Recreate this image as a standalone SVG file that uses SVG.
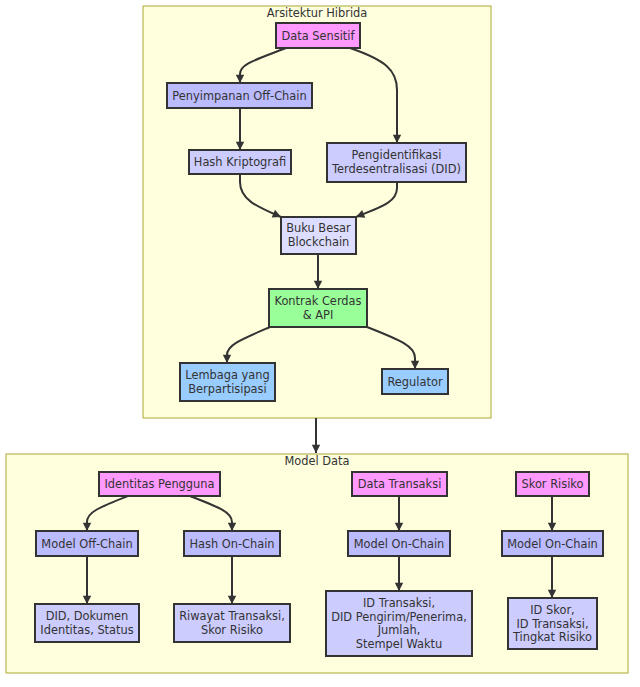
<svg xmlns="http://www.w3.org/2000/svg" width="640" height="687" viewBox="0 0 640 687">
<style>
text{font-family:"DejaVu Sans","Liberation Sans",sans-serif;font-size:11.4px;fill:#333;text-anchor:middle}
.cl{fill:#ffffde;stroke:#aaaa33;stroke-width:1}
.n rect{stroke:#333;stroke-width:2}
.pink{fill:#ff99ff}
.lav{fill:#bbbbff}
.lav1{fill:#ccccff}
.lav2{fill:#ddddff}
.green{fill:#99ff99}
.blue{fill:#99ccff}
.e path{fill:none;stroke:#333;stroke-width:2;marker-end:url(#arr)}
</style>
<defs>
<marker id="arr" viewBox="0 0 10 10" refX="9" refY="5" markerWidth="6" markerHeight="6" markerUnits="userSpaceOnUse" orient="auto" style="overflow:visible">
<path d="M0,0 L10,5 L0,10 z" fill="#333" transform="scale(1.4) translate(-3.5,-1.43)"/>
</marker>
</defs>
<g id="clusters">
<g id="cluster-arsitektur"><rect class="cl" x="143" y="6" width="348" height="412"/><text x="317" y="17">Arsitektur Hibrida</text></g>
<g id="cluster-model"><rect class="cl" x="6" y="454" width="622" height="219"/><text x="317" y="465">Model Data</text></g>
</g>
<g id="edges" class="e">
<path d="M286,48 C255,60 240,64 240,74 L240,83"/>
<path d="M350,48 C385,60 397,70 397,90 L397,143"/>
<path d="M240,108 L240,150"/>
<path d="M240,174 L240,182 C240,200 258,207 281,217"/>
<path d="M397,182 L397,188 C397,203 378,208 356,217"/>
<path d="M318,254 L318,289"/>
<path d="M270,327 C240,340 227,345 227,355 L227,363"/>
<path d="M367,327 C400,340 415,346 415,358 L415,369"/>
<path d="M316,418 L316,453"/>
<path d="M128,496 C100,507 87,512 87,522 L87,531"/>
<path d="M190,496 C218,507 232,512 232,522 L232,531"/>
<path d="M87,556 L87,604"/>
<path d="M232,556 L232,604"/>
<path d="M399,496 L399,531"/>
<path d="M399,556 L399,591"/>
<path d="M552,496 L552,531"/>
<path d="M552,556 L552,598"/>
</g>
<g id="data-sensitif" class="n"><rect class="pink" x="276" y="23" width="84" height="25"/><text x="318" y="40">Data Sensitif</text></g>
<g id="penyimpanan" class="n"><rect class="lav" x="167" y="83" width="145" height="25"/><text x="239.5" y="100">Penyimpanan Off-Chain</text></g>
<g id="hash-kriptografi" class="n"><rect class="lav1" x="189" y="150" width="102" height="24"/><text x="240" y="166">Hash Kriptografi</text></g>
<g id="did" class="n"><rect class="lav1" x="327" y="143" width="139" height="39"/><text x="396.5" y="159">Pengidentifikasi</text><text x="396.5" y="173">Terdesentralisasi (DID)</text></g>
<g id="buku-besar" class="n"><rect class="lav2" x="281" y="217" width="75" height="37"/><text x="318.5" y="232">Buku Besar</text><text x="318.5" y="246">Blockchain</text></g>
<g id="kontrak" class="n"><rect class="green" x="269" y="289" width="98" height="38"/><text x="318" y="305">Kontrak Cerdas</text><text x="318" y="319">&amp; API</text></g>
<g id="lembaga" class="n"><rect class="blue" x="180" y="363" width="95" height="38"/><text x="227.5" y="379">Lembaga yang</text><text x="227.5" y="393">Berpartisipasi</text></g>
<g id="regulator" class="n"><rect class="blue" x="382" y="369" width="66" height="25"/><text x="415" y="386">Regulator</text></g>
<g id="identitas" class="n"><rect class="pink" x="99" y="472" width="121" height="24"/><text x="159.5" y="488">Identitas Pengguna</text></g>
<g id="model-offchain" class="n"><rect class="lav" x="36" y="531" width="102" height="25"/><text x="87" y="548">Model Off-Chain</text></g>
<g id="hash-onchain" class="n"><rect class="lav" x="184" y="531" width="96" height="25"/><text x="232" y="548">Hash On-Chain</text></g>
<g id="did-dokumen" class="n"><rect class="lav1" x="35" y="604" width="104" height="38"/><text x="87" y="620">DID, Dokumen</text><text x="87" y="634">Identitas, Status</text></g>
<g id="riwayat" class="n"><rect class="lav1" x="174" y="604" width="116" height="38"/><text x="232" y="620">Riwayat Transaksi,</text><text x="232" y="634">Skor Risiko</text></g>
<g id="data-transaksi" class="n"><rect class="pink" x="352" y="472" width="95" height="24"/><text x="399.5" y="488">Data Transaksi</text></g>
<g id="model-onchain-1" class="n"><rect class="lav" x="348" y="531" width="102" height="25"/><text x="399" y="548">Model On-Chain</text></g>
<g id="id-transaksi" class="n"><rect class="lav1" x="326" y="591" width="146" height="65"/><text x="399" y="607">ID Transaksi,</text><text x="399" y="621">DID Pengirim/Penerima,</text><text x="399" y="634">Jumlah,</text><text x="399" y="648">Stempel Waktu</text></g>
<g id="skor-risiko" class="n"><rect class="pink" x="516" y="472" width="73" height="24"/><text x="552.5" y="488">Skor Risiko</text></g>
<g id="model-onchain-2" class="n"><rect class="lav" x="502" y="531" width="101" height="25"/><text x="552.5" y="548">Model On-Chain</text></g>
<g id="id-skor" class="n"><rect class="lav1" x="508" y="598" width="89" height="51"/><text x="552.5" y="614">ID Skor,</text><text x="552.5" y="628">ID Transaksi,</text><text x="552.5" y="641">Tingkat Risiko</text></g>
</svg>
